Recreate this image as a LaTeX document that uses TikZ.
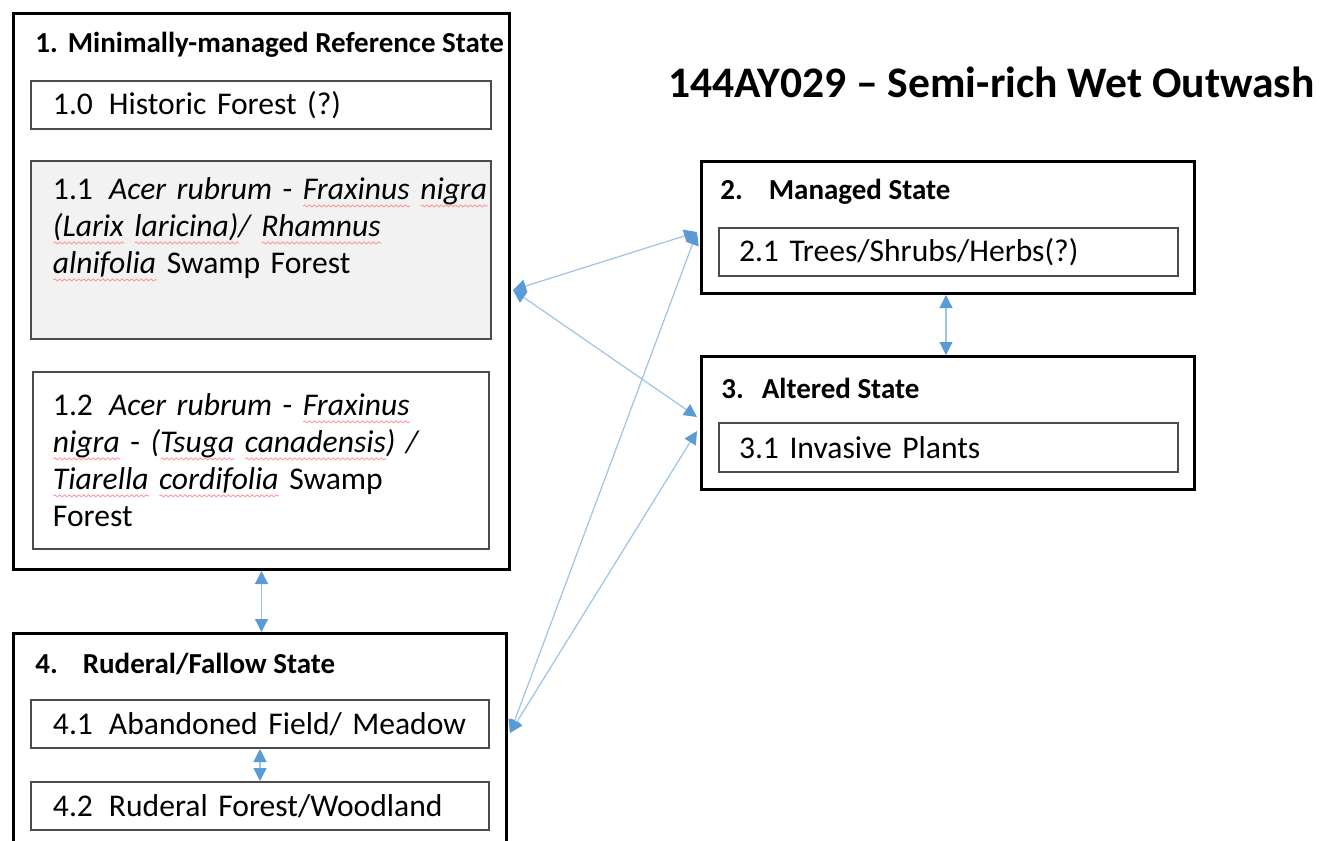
\documentclass[tikz,border=0pt]{standalone}
\usepackage{fontspec}
\setmainfont{Carlito}
\usetikzlibrary{arrows.meta, decorations.pathmorphing}

\definecolor{linkblue}{HTML}{9DC3E6}
\definecolor{tipblue}{HTML}{5B9BD5}
\definecolor{boxgray}{HTML}{F2F2F2}

% faint red spell-check wave under a word
\newlength{\splw}
\newcommand{\spl}[1]{\settowidth{\splw}{#1}\rlap{\tikz[baseline=0pt]
  \draw[red!40, line width=0.45pt, decorate,
    decoration={snake, amplitude=0.5pt, segment length=2.4pt}]
    (0pt,-3pt) -- (\splw,-3pt);}#1}

\tikzset{
  statebox/.style={draw=black, line width=1.5pt, anchor=north west, inner sep=0pt},
  subbox/.style={draw=black!70, line width=1pt, anchor=north west, inner xsep=11pt,
    inner ysep=0pt, align=left, text width=#1, font=\fontsize{15.8}{18.5}\selectfont},
  statetitle/.style={anchor=west, inner sep=0pt, font=\fontsize{14.5}{17}\selectfont\bfseries},
  link/.style={linkblue, line width=0.6pt,
    {Triangle[length=6.5pt,width=6.5pt,color=tipblue]}-{Triangle[length=6.5pt,width=6.5pt,color=tipblue]}}
}

\begin{document}
\begin{tikzpicture}[x=0.5pt, y=-0.5pt]
  \useasboundingbox (0,0) rectangle (1335,841);
  \clip (0,0) rectangle (1335,841);

  % 标题
  \node[anchor=west, inner sep=0pt, font=\fontsize{21.8}{24}\selectfont\bfseries] (title) at (668,82)
    {144AY029 -- Semi-rich Wet Outwash};

  % 状态 1
  \node[statebox, minimum width=248pt, minimum height=278pt] (s1) at (12,12) {};
  \node[statetitle] (t1) at (35,45) {1.\hspace{5pt}Minimally-managed Reference State};
  \node[subbox=208pt, minimum height=24pt] (b10) at (30,80)
    {1.0\hspace{8pt}Historic Forest (?)};
  \node[subbox=208pt, fill=boxgray, minimum height=89pt] (b11) at (30,160)
    {\mbox{1.1\hspace{8pt}\textit{Acer rubrum} - \textit{\spl{Fraxinus} \spl{nigra}}}\\
     \textit{\spl{(Larix} \spl{laricina)}/ \spl{Rhamnus}}\\
     \textit{\spl{alnifolia}} Swamp Forest\\ \strut};
  \node[subbox=208pt, minimum height=88.5pt, inner xsep=10pt] (b12) at (32,371)
    {1.2\hspace{8pt}\textit{Acer rubrum} - \textit{\spl{Fraxinus}}\\
     \mbox{\textit{\spl{nigra}} - \textit{(\spl{Tsuga} \spl{canadensis}) /}}\\
     \textit{\spl{Tiarella} \spl{cordifolia}} Swamp\\
     Forest};

  % 状态 2、3
  \node[statebox, minimum width=246.5pt, minimum height=66pt] (s2) at (700,160) {};
  \node[statetitle] (t2) at (720,192) {2.\hspace{13pt}Managed State};
  \node[subbox=209.5pt, minimum height=24pt, inner xsep=10pt] (b21) at (718,227)
    {2.1 Trees/Shrubs/Herbs(?)};

  \node[statebox, minimum width=246.5pt, minimum height=66.5pt] (s3) at (700,355) {};
  \node[statetitle] (t3) at (721,388) {3.\hspace{9pt}Altered State};
  \node[subbox=209.5pt, minimum height=24.5pt, inner xsep=10pt] (b31) at (718,422)
    {3.1 Invasive Plants};

  % 状态 4（底部被截断）
  \node[statebox, minimum width=246.5pt, minimum height=115pt] (s4) at (12,632) {};
  \node[statetitle] (t4) at (35,664) {4.\hspace{12.5pt}Ruderal/Fallow State};
  \node[subbox=207pt, minimum height=24pt] (b41) at (30,699)
    {4.1\hspace{8pt}Abandoned Field/ Meadow};
  \node[subbox=207pt, minimum height=24pt] (b42) at (30,781)
    {4.2\hspace{8pt}Ruderal Forest/Woodland};

  % 箭头端点
  \coordinate (p11) at (513,290);
  \coordinate (p41) at (510,733);
  \coordinate (p2a) at (697,232);
  \coordinate (p3a) at (697,417);
  \coordinate (p3b) at (697,431);
  \coordinate (m23) at (946,0);

  \draw[link] (s1.south) -- (s1.south |- s4.north);
  \draw[link] (s2.south -| m23) -- (s3.north -| m23);
  \draw[link] (b41.south) -- (b42.north);
  \draw[link] (p11) -- (p2a);
  \draw[link] (p11) -- (p3a);
  \draw[link] (p41) -- (p2a);
  \draw[link] (p41) -- (p3b);
\end{tikzpicture}
\end{document}
